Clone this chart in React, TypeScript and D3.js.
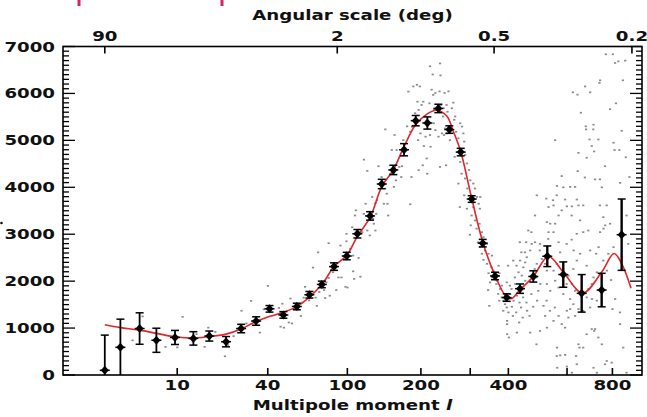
import React from "react";
import * as d3 from "d3";

// ---- Data ----
const binnedL = [2, 3, 4.7, 6.7, 9.6, 13.3, 17.3, 22.4, 27.9, 34.3, 40.9, 48.7, 57.3, 66.3, 76.2, 87, 99.4, 110.7, 125.5, 140.4, 156.4, 172.4, 191.2, 211.4, 231.9, 253.9, 278.3, 303.5, 330.4, 362.5, 395.1, 434.9, 477.6, 525.8, 585.3, 659.9, 748.7, 846.2];
const binnedV = [100, 590, 990, 740, 800, 780, 830, 710, 990, 1150, 1410, 1280, 1460, 1710, 1930, 2310, 2535, 3010, 3390, 4070, 4370, 4800, 5420, 5370, 5680, 5230, 4750, 3750, 2810, 2110, 1650, 1840, 2100, 2530, 2140, 1740, 1810, 2990];
const binnedErr = [750, 600, 335, 257, 150, 143, 107, 110, 90, 90, 70, 70, 70, 70, 70, 80, 80, 90, 90, 100, 100, 130, 110, 130, 90, 80, 80, 70, 80, 80, 80, 100, 120, 220, 270, 400, 357, 760];

const modelL = [2, 3, 4.7, 9.6, 13.3, 17.3, 22.4, 27.9, 34.2, 41.2, 57.3, 76.2, 87, 99.4, 110.7, 125.5, 140.4, 156.4, 172.4, 191.2, 210.7, 228, 248.6, 262, 278.3, 303.5, 330.4, 362.5, 395.1, 410, 434.9, 477.6, 530, 585.3, 664, 748.7, 808, 846.2, 895];
const modelV = [1070, 1010, 957, 814, 786, 821, 871, 979, 1143, 1250, 1457, 1929, 2314, 2550, 2957, 3357, 4014, 4371, 4871, 5336, 5560, 5640, 5520, 5200, 4764, 3764, 2836, 2121, 1657, 1630, 1814, 2100, 2525, 2193, 1745, 2193, 2590, 2371, 1850];

const scatter: [number, number][] = [
  [5,1250],[11,1240],[4,740],[8,600],[10,590],[14,870],[17,1010],[16,600],[19,920],[23,640],[22,400],[25,830],[28,1370],[32,1580],[30,1100],[36,905],
  [40,1900],[38,1400],[46,1430],[48,1520],[53,1630],[47,1030],[49,1010],[52,1120],[54,1100],[60,1260],[61,1545],[63,1880],[69,2290],[62,1650],[66,1590],[71,1650],[72,1475],[79,1640],[83,1690],[89,1810],[78,1810],[74,1770],[73,2615],[82,2070],[80,1975],[86,2190],[91,2080],[94,2080],[98,1880],[82,2810],[93,2760],[99,2850],[103,2690],[106,2545],[106,2210],[114,2095],[112,2495],[99,3010],[105,3150],[108,3400],[109,3510],[118,3435],[120,3650],[122,3080],[116,3045],[125,2975],[130,3225],[132,3080],[129,3330],[133,3435],[143,3650],[149,3400],[182,3640],[107,2050],[100,1865],
  [118,4590],[122,4350],[136,4450],[140,4220],[152,4290],[145,5235],[158,5115],[154,4795],[161,4795],[165,4435],[169,4450],[160,4150],[157,4010],[128,3795],[134,3725],[132,3665],[147,3865],[148,3650],[168,4220],[171,5005],[177,5300],[182,5185],[184,4220],[185,5290],[179,6040],[187,6150],[193,6185],[198,6150],[201,5755],[204,5825],[196,5650],[190,5580],[194,5825],[199,5150],[195,5005],[205,4880],[208,5080],[216,5115],[217,4865],[210,4615],[203,4470],[211,4290],[223,5365],[226,5220],[232,5080],[239,5150],[245,5255],[249,5150],[216,6580],[235,6640],[221,6405],[236,6385],[219,6080],[226,6010],[222,5970],[234,6045],[244,6010],[252,6045],[237,5755],[248,5755],[215,5790],[224,5650],[235,4435],[247,4470],[196,4365],[250,5610],[242,5685],[255,5005],
  [262,5805],[259,5685],[241,5510],[266,5510],[264,5440],[277,5365],[281,5295],[284,5150],[273,5045],[268,5185],[286,4975],[243,5115],[265,4650],[277,4540],[288,4690],[292,4510],[297,4370],[280,4290],[288,4190],[273,4080],[300,4150],[307,4080],[311,3975],[293,3975],[286,3830],[316,3795],[324,3795],[320,3650],[323,3545],[276,3580],
  [554,5005],[489,3830],[522,3760],[546,3725],[530,3580],[560,3830],[579,4240],[561,4030],[585,4000],[612,4010],[632,4010],[592,3740],[599,3595],[639,3740],[619,3595],[646,3615],[643,4345],[646,4735],[681,4630],[656,5590],[623,6025],[642,5975],[674,6150],[696,6025],[677,5300],[678,5235],[711,5335],[710,5235],[693,5020],[703,4880],[733,5020],[714,4765],[673,4210],[718,4170],[738,6225],[741,6280],[768,6835],[802,6835],[813,6650],[829,6685],[864,6700],[852,6280],[817,5790],[788,5665],[846,5205],[805,4950],[810,4795],[834,4795],[867,4640],[764,4450],[749,4000],[740,4170],[838,4095],[886,4220],[772,3615],
  [292,3545],[307,3580],[303,3400],[311,3295],[301,3190],[315,3120],[322,3225],[328,3045],[299,2990],[332,2940],[319,2830],[341,2795],[324,2725],[336,2655],[345,2585],[328,2585],[354,2545],[332,2455],[341,2370],[353,2295],[345,2170],[358,2225],[349,1975],[344,1810],[354,2080],[367,2010],[374,2170],[372,2330],[366,1940],[376,1835],[381,1905],[371,1730],[381,1655],[374,1585],[386,1585],[390,1510],[347,1475],[395,1440],[385,1370],[400,1335],[410,1455],[415,1585],[425,1690],[405,1725],[409,1835],[420,1940],[404,1905],[395,1975],[419,2080],[430,2190],[445,2295],[440,2120],[424,2330],[435,2440],[451,2400],[414,2440],[399,2330],[456,2510],[439,2615],[450,2615],[467,2655],[434,2830],[454,2830],[472,2795],[483,2830],[500,2795],[461,3080],[471,3045],[483,3400],[524,3260],[536,3225],[554,3225],[530,3045],[548,3045],[529,2900],[499,2655],[506,2475],[518,2370],[489,2370],[482,2260],[488,2080],[466,2010],[501,1940],[494,1795],[471,1725],[444,1655],[455,1545],[433,1545],[438,1440],[423,1335],[457,1370],[465,1260],[443,1225],[413,1260],[432,1120],[477,1455],[490,1585],[512,1475],[523,1585],[535,1370],[553,1440],[518,1260],[567,1260],[579,1085],[548,1155],[524,1010],[500,940],[396,870],[401,800],[425,905],[467,905],[488,655],[561,585],[560,405],[573,420],[592,430],[562,155],[599,180],[619,50],[639,230],[636,405],[646,655],[650,585],[666,585],[681,870],[703,980],[718,980],[714,940],[733,800],[749,655],[764,230],[772,300],[711,155],[726,50],[796,265],[854,585],[871,50],[838,1085],[837,1335],[800,1405],[813,1620],[793,2025],[773,2225],[756,2440],[780,2585],[805,2725],[734,2725],[723,2585],[741,3045],[757,3120],[765,3190],[788,3225],[740,3615],[756,3365],[871,3400],[880,2795],[726,2190],[711,2080],[681,2330],[696,2655],[703,1940],[688,1835],[681,1655],[704,1620],[726,1585],[696,1440],[666,1370],[646,1405],[625,1510],[612,1405],[632,1260],[605,1225],[592,1010],[599,1370],[612,1620],[632,1795],[619,1940],[598,1940],[585,1725],[605,2120],[625,2260],[639,2440],[653,2585],[626,2655],[598,2795],[618,2885],[639,3010],[666,3045],[688,3080],[653,3295],[618,3400],[666,3615],[567,3400],[579,3510],[548,3615],[567,2830],[573,2615],[561,2370],[548,2225],[554,2010],[567,1865],[536,1795],[524,1940],[524,2225],[451,2010],[396,1155],[396,1085],
];

const xTickValues = [10, 40, 100, 200, 300, 400, 600, 800];
const xTickLabels = ["10", "40", "100", "200", "", "400", "", "800"];
const angleTickValues = [90, 2, 0.5, 0.2];
const angleTickLabels = ["90", "2", "0.5", "0.2"];
const yMajorTicks = [0, 1000, 2000, 3000, 4000, 5000, 6000, 7000];

// ---- Layout ----
const W = 647, H = 417;
const L = 63, R = 642, T = 46.5, B = 375;
const SX = 1.3;
const FONT = "'DejaVu Sans', sans-serif";

const x = d3.scalePow().exponent(0.25).domain([0.52, 955]).range([L, R]);
const y = d3.scaleLinear().domain([0, 7000]).range([B, T]);

function Label({ px, py, anchor = "middle", size = 14, children, italic = false }: any) {
  return (
    <text
      transform={`translate(${px},${py}) scale(${SX},1)`}
      textAnchor={anchor}
      fontFamily={FONT}
      fontWeight="bold"
      fontSize={size}
      fill="#111"
    >
      {children}
    </text>
  );
}

export default function App() {
  const line = d3
    .line<number>()
    .x((_, i) => x(modelL[i]))
    .y((d) => y(d))
    .curve(d3.curveCatmullRom.alpha(0.5));
  const modelPath = line(modelV) || "";

  const minorTicks = d3.range(0, 7001, 100).filter((v) => v % 1000 !== 0);
  const clampY = (v: number) => Math.max(T, Math.min(B, y(v)));

  return (
    <svg width={W} height={H} style={{ position: "absolute", left: 0, top: 0, background: "#fff" }}>
      <rect x={0} y={0} width={W} height={H} fill="#fff" />
      {/* cropped legend fragments at top */}
      <rect x={77.5} y={0} width={3} height={6} fill="#d8245c" />
      <rect x={220.5} y={0} width={3} height={6} fill="#d8245c" />
      <circle cx={1.5} cy={223} r={1.3} fill="#111" />

      {/* scatter */}
      <g fill="#8a8a8a">
        {scatter.map(([l, v], i) => (
          <rect key={i} x={x(l) - 1} y={y(v) - 0.8} width={2.2} height={1.7} />
        ))}
      </g>

      {/* model curve */}
      <path d={modelPath} fill="none" stroke="#e3242b" strokeWidth={1.6} />

      {/* binned points */}
      <g stroke="#000" fill="#000">
        {binnedL.map((l, i) => {
          const cx = x(l);
          const v = binnedV[i];
          const e = binnedErr[i];
          const top = clampY(v + e);
          const bot = clampY(v - e);
          const sw = l > 500 ? 2.4 : 1.8;
          return (
            <g key={i}>
              <line x1={cx} x2={cx} y1={top} y2={bot} strokeWidth={sw} />
              {v + e < 7000 && <line x1={cx - 4} x2={cx + 4} y1={top} y2={top} strokeWidth={1.5} />}
              {v - e > 0 && <line x1={cx - 4} x2={cx + 4} y1={bot} y2={bot} strokeWidth={1.5} />}
              <path
                d={`M${cx},${y(v) - 4.5} L${cx + 4},${y(v)} L${cx},${y(v) + 4.5} L${cx - 4},${y(v)} Z`}
                stroke="none"
              />
              <line x1={cx - 5} x2={cx + 5} y1={y(v)} y2={y(v)} strokeWidth={1.5} />
            </g>
          );
        })}
      </g>

      {/* frame */}
      <rect x={L} y={T} width={R - L} height={B - T} fill="none" stroke="#000" strokeWidth={1.6} />

      {/* y ticks */}
      <g stroke="#000" strokeWidth={1.3}>
        {yMajorTicks.map((v) => (
          <g key={v}>
            <line x1={L} x2={L + 12} y1={y(v)} y2={y(v)} />
            <line x1={R} x2={R - 12} y1={y(v)} y2={y(v)} />
          </g>
        ))}
        {minorTicks.map((v) => (
          <g key={v}>
            <line x1={L} x2={L + 6} y1={y(v)} y2={y(v)} />
            <line x1={R} x2={R - 6} y1={y(v)} y2={y(v)} />
          </g>
        ))}
      </g>
      {yMajorTicks.map((v) => (
        <Label key={v} px={55} py={y(v) + 5} anchor="end">
          {String(v)}
        </Label>
      ))}

      {/* bottom ticks */}
      <g stroke="#000" strokeWidth={1.6}>
        {xTickValues.map((l) => (
          <line key={l} x1={x(l)} x2={x(l)} y1={B} y2={B - 7} />
        ))}
        {angleTickValues.map((a) => (
          <line key={a} x1={x(180 / a)} x2={x(180 / a)} y1={T} y2={T + 7} />
        ))}
      </g>
      {xTickValues.map((l, i) =>
        xTickLabels[i] ? (
          <Label key={l} px={x(l)} py={390}>
            {xTickLabels[i]}
          </Label>
        ) : null
      )}
      {angleTickValues.map((a, i) => (
        <Label key={a} px={x(180 / a)} py={41}>
          {angleTickLabels[i]}
        </Label>
      ))}

      <Label px={(L + R) / 2} py={20}>Angular scale (deg)</Label>
      <text
        transform={`translate(${(L + R) / 2},${410}) scale(${SX},1)`}
        textAnchor="middle"
        fontFamily={FONT}
        fontWeight="bold"
        fontSize={14}
        fill="#111"
      >
        Multipole moment <tspan fontStyle="italic">l</tspan>
      </text>
    </svg>
  );
}
